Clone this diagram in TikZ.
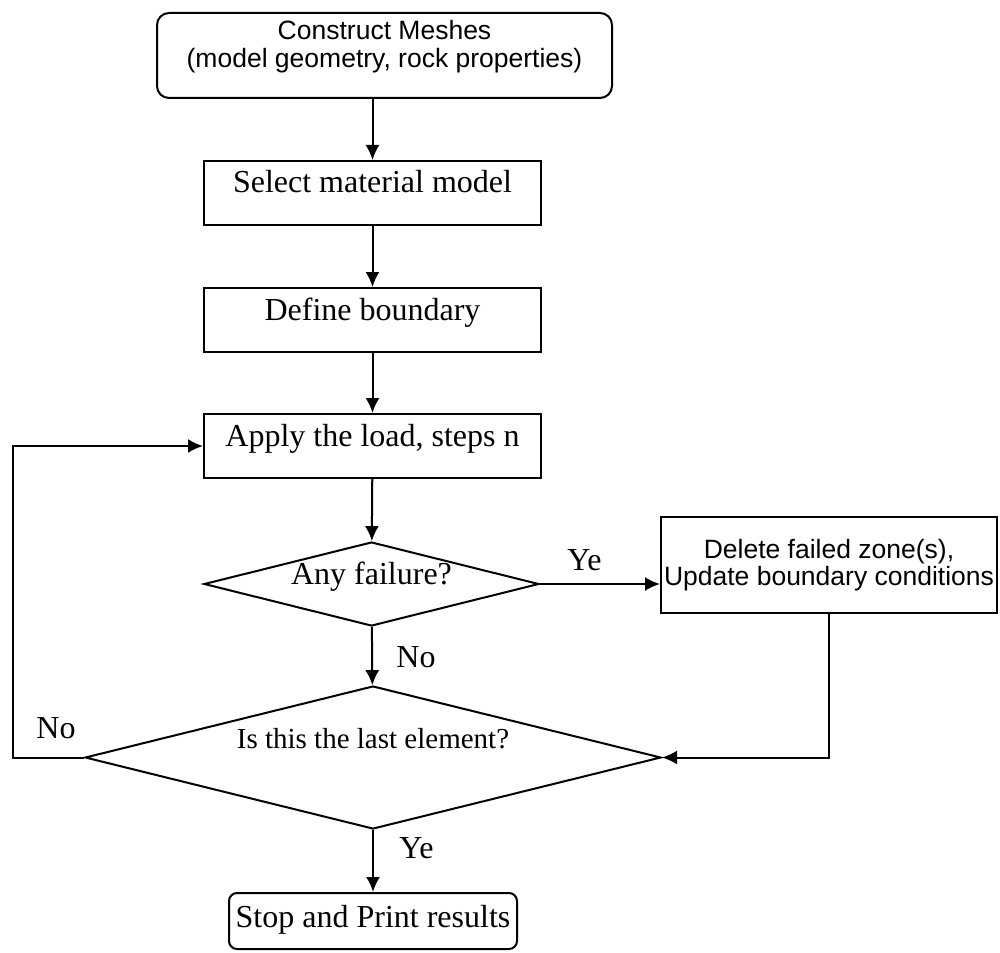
\documentclass[tikz,border=0pt]{standalone}
\usepackage{fontspec}
\setmainfont{Liberation Serif}
\setsansfont{Liberation Sans}
\usetikzlibrary{shapes.geometric,arrows.meta}

\begin{document}
\begin{tikzpicture}[x=0.5pt, y=-0.5pt, >={Latex[length=7.5pt,width=7pt]},
    line width=1pt,
    stepbox/.style={draw, rectangle, inner sep=0pt, minimum width=168.5pt,
        text height=16pt, text depth=16pt, font=\fontsize{16}{19}\selectfont},
    roundbox/.style={draw, rectangle, rounded corners=6pt, inner sep=0pt},
    ask/.style={draw, diamond, inner sep=0pt, shape aspect=4,
        font=\fontsize{16}{19}\selectfont},
    tag/.style={anchor=base, inner sep=0pt, font=\fontsize{16}{19}\selectfont},
    sanstext/.style={font=\sffamily\fontsize{13.25}{13.5}\selectfont}]

    % 1. 画布大小
    \useasboundingbox (0,0) rectangle (1000,952);

    % 2. 主流程的框
    \node[roundbox, sanstext, minimum width=227.5pt,
          text height=13.5pt, text depth=29pt] (mesh) at (384.5,55.5)
          {\begin{tabular}[t]{@{}c@{}}Construct Meshes\\(model geometry, rock properties)\end{tabular}};
    \node[stepbox] (sel) at (372.5,193) {Select material model};
    \node[stepbox] (bnd) at (372.5,320) {Define boundary};
    \node[stepbox] (load) at (372.5,446) {Apply the load, steps n};

    % 3. 两个判断
    \node[ask, minimum width=167.5pt, minimum height=42pt,
          text height=6pt, text depth=6pt] (fail) at (371.5,584) {Any failure?};
    \node[ask, font=\fontsize{14.5}{17}\selectfont, minimum width=288pt,
          minimum height=71.5pt, text height=6pt, text depth=15.5pt]
          (last) at (373,757.5) {Is this the last element?};

    % 4. 右边的框和结束框
    \node[draw, rectangle, inner sep=0pt, sanstext, minimum width=168pt,
          text height=20.5pt, text depth=27.5pt] (del) at (829,565)
          {\begin{tabular}[t]{@{}c@{}}Delete failed zone(s),\\Update boundary conditions\end{tabular}};
    \node[roundbox, rounded corners=4pt, font=\fontsize{16}{19}\selectfont,
          minimum width=144pt, text height=17pt, text depth=11pt]
          (stop) at (373,921) {Stop and Print results};

    % 5. 箭头
    \draw[->] (mesh.south -| sel.north) -- (sel.north);
    \draw[->] (sel) -- (bnd);
    \draw[->] (bnd) -- (load);
    \draw[->] (load) -- (fail);
    \draw[->] (fail) -- (last);
    \draw[->] (fail.east) -- (fail.east -| del.west);
    \draw[->] (del.south) |- (last.east);
    \coordinate (back) at (12.5,757.5);
    \draw[->] (last.west) -- (back) |- (load.west);
    \draw[->] (last) -- (stop);

    % 6. 标注 Ye / No
    \node[tag] (yes1) at (584.5,570) {Ye};
    \node[tag] (no1) at (416,667) {No};
    \node[tag] (no2) at (56,738) {No};
    \node[tag] (yes2) at (416.5,858) {Ye};

\end{tikzpicture}
\end{document}
